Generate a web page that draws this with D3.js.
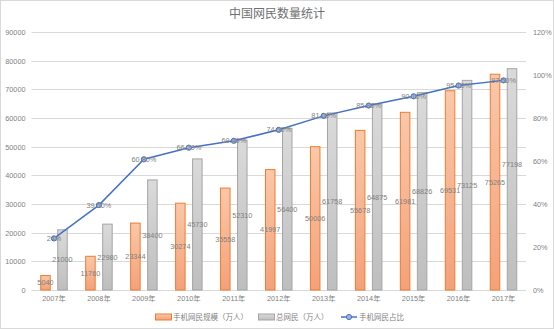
<!DOCTYPE html>
<html>
<head>
<meta charset="utf-8">
<script src="https://cdn.jsdelivr.net/npm/d3@7/dist/d3.min.js"></script>
<style>
  html, body { margin: 0; padding: 0; background: #fff; }
  svg { display: block; }
  text { font-family: "Liberation Sans", "Noto Sans CJK SC", sans-serif; }
</style>
</head>
<body>
<svg id="chart" width="554" height="329"></svg>
<script>
// 中国网民数量统计 2007–2017
const years = ["2007年","2008年","2009年","2010年","2011年","2012年","2013年","2014年","2015年","2016年","2017年"];
const mobileUsers = [5040, 11760, 23344, 30274, 35558, 41997, 50006, 55678, 61981, 69531, 75265];
const totalUsers  = [21000, 22980, 38400, 45730, 52310, 56400, 61758, 64875, 68826, 73125, 77198];
const mobileShare = [0.24, 0.395, 0.608, 0.662, 0.694, 0.745, 0.81, 0.858, 0.901, 0.951, 0.975];
const leftTicks  = [0, 10000, 20000, 30000, 40000, 50000, 60000, 70000, 80000, 90000];
const rightTicks = [0, 0.2, 0.4, 0.6, 0.8, 1.0, 1.2];
const seriesNames = ["手机网民规模（万人）", "总网民（万人）", "手机网民占比"];
const title = "中国网民数量统计";

const W = 554, H = 329;
const m = { left: 31.5, right: 28, top: 32, bottom: 39 };
const svg = d3.select("#chart");

const defs = svg.append("defs");
function vGrad(id, c0, c1) {
  const g = defs.append("linearGradient").attr("id", id)
    .attr("x1", 0).attr("y1", 0).attr("x2", 0).attr("y2", 1);
  g.append("stop").attr("offset", "0%").attr("stop-color", c0);
  g.append("stop").attr("offset", "100%").attr("stop-color", c1);
}
vGrad("gOrange", "#F9C8AA", "#F4A17A");
vGrad("gGray", "#DADADA", "#BEBEBE");

// outer frame
svg.append("rect").attr("x", 0.5).attr("y", 0.5).attr("width", W - 1).attr("height", H - 1)
  .attr("fill", "#fff").attr("stroke", "#D9D9D9");

svg.append("text").attr("x", 277).attr("y", 17.5).attr("text-anchor", "middle")
  .attr("font-size", 12).attr("fill", "#6F6F6F").text(title);

const x = d3.scaleBand().domain(years).range([m.left, W - m.right]).paddingInner(0).paddingOuter(0);
const y = d3.scaleLinear().domain([0, 90000]).range([H - m.bottom, m.top]);
const y2 = d3.scaleLinear().domain([0, 1.2]).range([H - m.bottom, m.top]);

// gridlines
svg.append("g").selectAll("line").data(leftTicks).join("line")
  .attr("x1", m.left).attr("x2", W - m.right)
  .attr("y1", d => Math.round(y(d)) + 0.5).attr("y2", d => Math.round(y(d)) + 0.5)
  .attr("stroke", "#D9D9D9").attr("stroke-width", 1);

// left axis
const axL = svg.append("g").attr("transform", `translate(${m.left - 6},0)`)
  .call(d3.axisLeft(y).tickValues(leftTicks).tickSize(0).tickPadding(0).tickFormat(d3.format("d")));
axL.select(".domain").remove();
axL.selectAll("text").attr("font-size", 7.3).attr("fill", "#7F7F7F")
  .attr("font-family", "'Liberation Sans', sans-serif");

// right axis
const axR = svg.append("g").attr("transform", `translate(${W - m.right + 7},0)`)
  .call(d3.axisRight(y2).tickValues(rightTicks).tickSize(0).tickPadding(0).tickFormat(d3.format(".0%")));
axR.select(".domain").remove();
axR.selectAll("text").attr("font-size", 7.3).attr("fill", "#7F7F7F")
  .attr("font-family", "'Liberation Sans', sans-serif");

// bottom axis
const axB = svg.append("g").attr("transform", `translate(0,${H - m.bottom + 4})`)
  .call(d3.axisBottom(x).tickSize(0).tickPadding(2));
axB.select(".domain").remove();
axB.selectAll("text").attr("font-size", 7.3).attr("fill", "#7F7F7F");

const barW = 9.5, off = 8.5;
const cx = d => x(d) + x.bandwidth() / 2;

const bars = [
  { vals: mobileUsers, dx: -off, fill: "url(#gOrange)", stroke: "#ED7D31", lift: () => 0 },
  // the last total label is lifted clear of its neighbour
  { vals: totalUsers, dx: off, fill: "url(#gGray)", stroke: "#A5A5A5", lift: i => i === years.length - 1 ? -15 : 0 }
];
bars.forEach(s => {
  svg.append("g").selectAll("rect").data(years).join("rect")
    .attr("x", (d) => cx(d) + s.dx - barW / 2)
    .attr("y", (d, i) => y(s.vals[i]))
    .attr("width", barW)
    .attr("height", (d, i) => y(0) - y(s.vals[i]))
    .attr("fill", s.fill).attr("stroke", s.stroke).attr("stroke-width", 1);
});

// share line
const line = d3.line().x((d, i) => cx(years[i])).y(d => y2(d));
svg.append("path").datum(mobileShare).attr("d", line)
  .attr("fill", "none").attr("stroke", "#4472C4").attr("stroke-width", 1.5);
svg.append("g").selectAll("circle").data(mobileShare).join("circle")
  .attr("cx", (d, i) => cx(years[i])).attr("cy", d => y2(d)).attr("r", 2.6)
  .attr("fill", "#9DB4E0").attr("stroke", "#4472C4").attr("stroke-width", 1);

// data labels
const labelColor = "#808080";
bars.forEach(s => {
  svg.append("g").selectAll("text").data(years).join("text")
    .attr("x", d => cx(d) + s.dx)
    .attr("y", (d, i) => (y(s.vals[i]) + y(0)) / 2 + s.lift(i))
    .attr("dy", "0.35em").attr("text-anchor", "middle")
    .attr("font-size", 7.3).attr("fill", labelColor)
    .text((d, i) => s.vals[i]);
});
const pct2 = d3.format(".2%"), pct0 = d3.format(".0%");
svg.append("g").selectAll("text").data(mobileShare).join("text")
  .attr("x", (d, i) => cx(years[i])).attr("y", d => y2(d))
  .attr("dy", "0.35em").attr("text-anchor", "middle")
  .attr("font-size", 7.3).attr("fill", labelColor)
  .text((d, i) => i === 0 ? pct0(d) : pct2(d));

// legend
const lg = svg.append("g").attr("font-size", 7.5).attr("fill", "#7F7F7F");
const ly = 317;
lg.append("rect").attr("x", 155.5).attr("y", ly - 3).attr("width", 16).attr("height", 6)
  .attr("fill", "url(#gOrange)").attr("stroke", "#ED7D31");
lg.append("text").attr("x", 173).attr("y", ly).attr("dy", "0.35em").text(seriesNames[0]);
lg.append("rect").attr("x", 258.5).attr("y", ly - 3).attr("width", 16).attr("height", 6)
  .attr("fill", "url(#gGray)").attr("stroke", "#A5A5A5");
lg.append("text").attr("x", 276).attr("y", ly).attr("dy", "0.35em").text(seriesNames[1]);
lg.append("line").attr("x1", 341).attr("x2", 357).attr("y1", ly).attr("y2", ly)
  .attr("stroke", "#4472C4").attr("stroke-width", 1.5);
lg.append("circle").attr("cx", 349).attr("cy", ly).attr("r", 2.6)
  .attr("fill", "#9DB4E0").attr("stroke", "#4472C4");
lg.append("text").attr("x", 359).attr("y", ly).attr("dy", "0.35em").text(seriesNames[2]);
</script>
</body>
</html>
